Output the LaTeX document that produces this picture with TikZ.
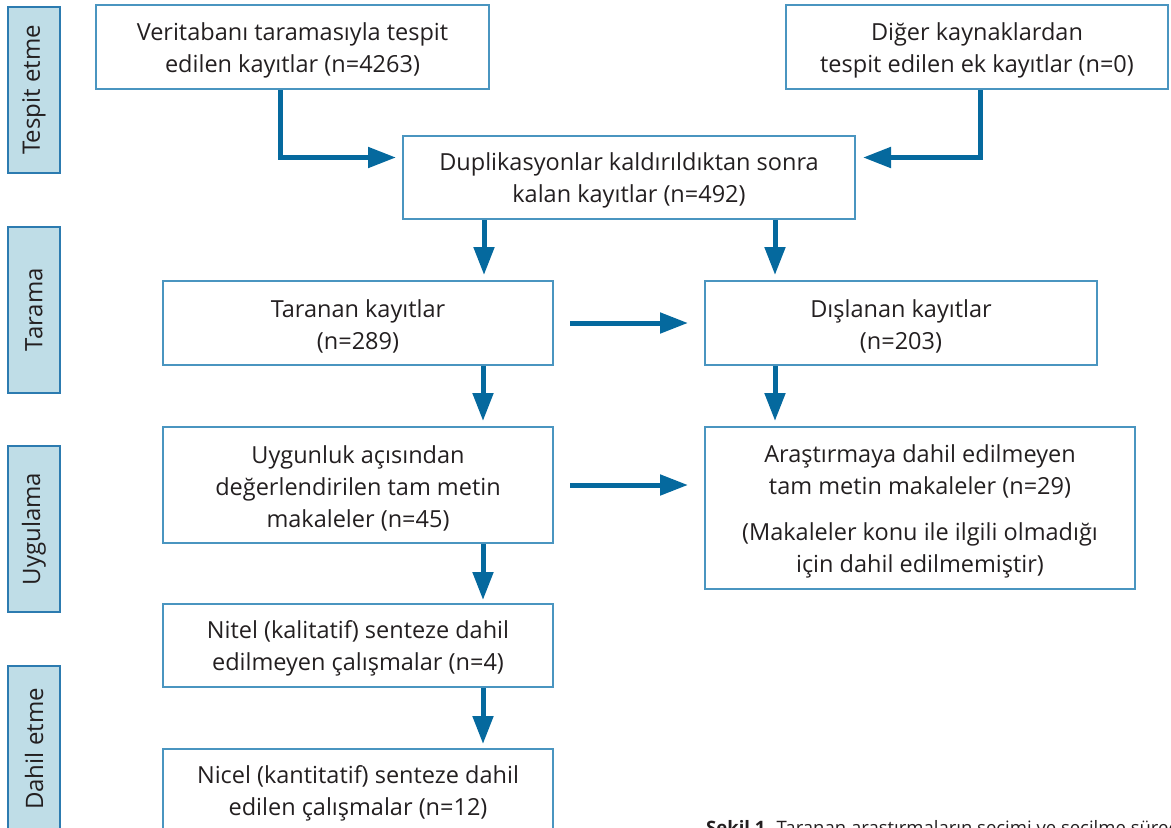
\documentclass[tikz,border=0pt]{standalone}
\usepackage{fontspec}
\setmainfont{Open Sans}
\usetikzlibrary{arrows.meta}
\definecolor{boxline}{HTML}{4A95C0}
\definecolor{sideline}{HTML}{2C7BB0}
\definecolor{sidefill}{HTML}{BFDDE7}
\definecolor{arrowblue}{HTML}{05699E}
\definecolor{txt}{HTML}{231F20}
\newcommand\myTopStrut{\rule{0pt}{24.5pt}}
\tikzset{
  flowbox/.style={draw=boxline, line width=2pt, rectangle, align=center, text=txt,
    font=\fontsize{23.5}{32}\selectfont, inner sep=0pt},
  sidebox/.style={draw=sideline, fill=sidefill, line width=2pt, rectangle, align=center,
    text=txt, font=\fontsize{24}{29}\selectfont, rotate=90, inner sep=0pt,
    minimum width=166pt, minimum height=52pt},
  arr/.style={draw=arrowblue, line width=5pt, -{Triangle[length=28pt,width=20pt]}, arrowblue}
}
\begin{document}
\begin{tikzpicture}[x=1pt,y=-1pt]
\useasboundingbox (0,0) rectangle (1171,828);
\begin{scope}
\clip (0,0) rectangle (1171,828);
% side labels
\node[sidebox] (s1) at (34,90) {Tespit etme};
\node[sidebox] (s2) at (34,309.5) {Tarama};
\node[sidebox] (s3) at (34,529) {Uygulama};
\node[sidebox] (s4) at (34,749) {Dahil etme};
% boxes
\node[flowbox, minimum width=393pt, minimum height=84pt] (b1) at (292.5,47)
  {\myTopStrut Veritabanı taramasıyla tespit\\edilen kayıtlar (n=4263)};
\node[flowbox, minimum width=382pt, minimum height=84pt] (b2) at (977,47)
  {\myTopStrut Diğer kaynaklardan\\tespit edilen ek kayıtlar (n=0)};
\node[flowbox, minimum width=452pt, minimum height=83pt] (b3) at (629,177.5)
  {\myTopStrut Duplikasyonlar kaldırıldıktan sonra\\kalan kayıtlar (n=492)};
\node[flowbox, minimum width=390pt, minimum height=84pt] (b4) at (358,323)
  {\myTopStrut Taranan kayıtlar\\(n=289)};
\node[flowbox, minimum width=392pt, minimum height=84pt] (b5) at (901,323)
  {\myTopStrut Dışlanan kayıtlar\\(n=203)};
\node[flowbox, minimum width=390pt, minimum height=116pt] (b6) at (358,485)
  {\myTopStrut Uygunluk açısından\\değerlendirilen tam metin\\makaleler (n=45)};
\node[flowbox, minimum width=430pt, minimum height=162pt] (b7) at (920,508)
  {\myTopStrut Araştırmaya dahil edilmeyen\\tam metin makaleler (n=29)\\[14pt](Makaleler konu ile ilgili olmadığı\\için dahil edilmemiştir)};
\node[flowbox, minimum width=390pt, minimum height=83pt] (b8) at (358,645.5)
  {\myTopStrut Nitel (kalitatif) senteze dahil\\edilmeyen çalışmalar (n=4)};
\node[flowbox, minimum width=390pt, minimum height=83pt] (b9) at (358,790.5)
  {\myTopStrut Nicel (kantitatif) senteze dahil\\edilen çalışmalar (n=12)};
% caption (cut off by the page edge, as in the source)
\node[anchor=base west, text=txt, font=\fontsize{18.5}{22}\selectfont, inner sep=0pt] (cap) at (706,834)
  {\textbf{Şekil 1.}\kern6pt Taranan araştırmaların seçimi ve seçilme süreci};
% connectors
\draw[arr, shorten >=6pt] ([xshift=-12.5pt]b1.south) |- ([yshift=20pt]b3.west);
\draw[arr, shorten >=7pt] ([xshift=3pt]b2.south) |- ([yshift=20pt]b3.east);
\draw[arr, shorten >=5pt] ([xshift=-145pt]b3.south) -- ([xshift=126pt]b4.north);
\draw[arr, shorten >=5pt] ([xshift=146pt]b3.south) -- ([xshift=-126pt]b5.north);
\draw[arr, shorten <=16pt, shorten >=16pt] (b4.east) -- (b5.west);
\draw[arr, shorten >=5pt] ([xshift=125pt]b4.south) -- ([xshift=125pt]b6.north);
\draw[arr, shorten >=5pt] ([xshift=-126pt]b5.south) -- ([xshift=-145pt]b7.north);
\draw[arr, shorten <=16pt, shorten >=16pt] (b6.east) -- (b6.east -| b7.west);
\draw[arr, shorten >=3pt] ([xshift=125pt]b6.south) -- ([xshift=125pt]b8.north);
\draw[arr, shorten >=4pt] ([xshift=125pt]b8.south) -- ([xshift=125pt]b9.north);
\end{scope}
\end{tikzpicture}
\end{document}
